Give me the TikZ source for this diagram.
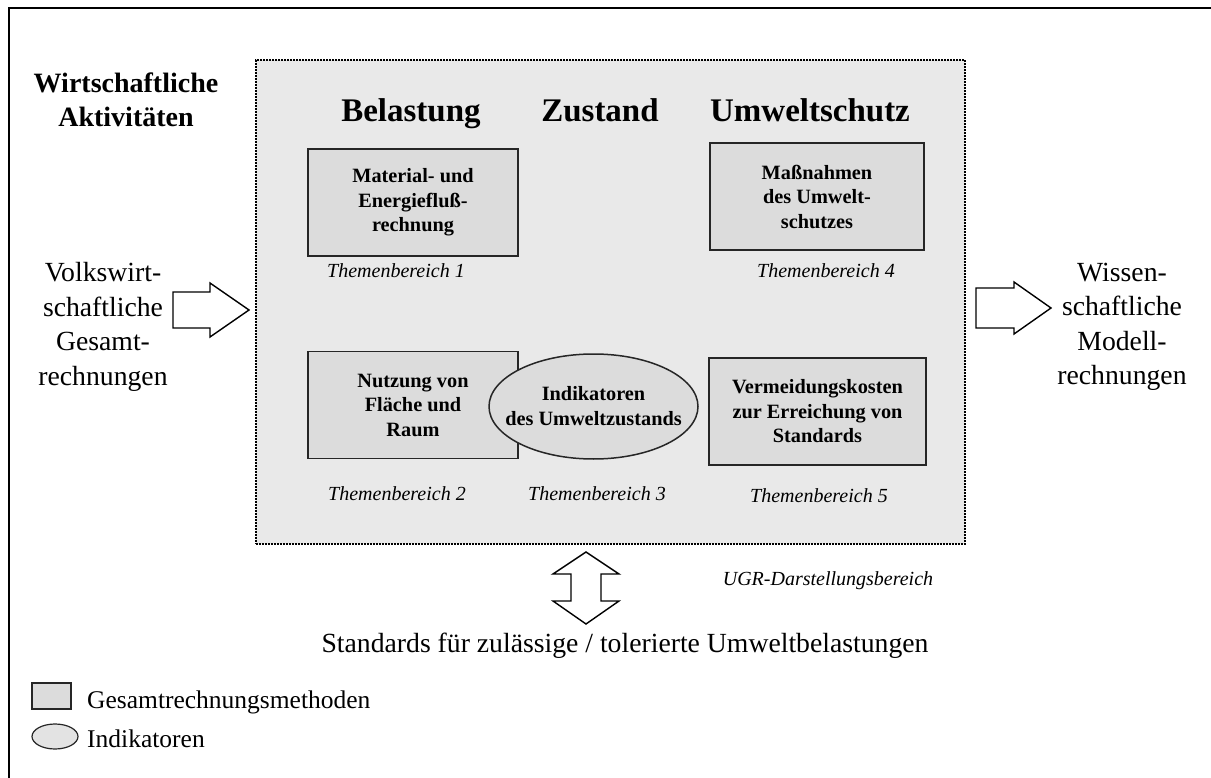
\documentclass[tikz,border=0pt]{standalone}
\usepackage{fontspec}
\setmainfont{Liberation Serif}
\usetikzlibrary{shapes.geometric}

\definecolor{fondo}{HTML}{E9E9E9}
\definecolor{caja}{HTML}{DCDCDC}

\begin{document}
\begin{tikzpicture}[x=1pt, y=-1pt,
    bereich/.style={draw, line width=1.6pt, dash pattern=on 1.6pt off 1.4pt, fill=fondo,
        minimum width=709pt, minimum height=484pt, inner sep=0pt},
    metodo/.style={draw=black!85, line width=1.5pt, fill=caja, minimum width=#1,
        minimum height=107pt, inner sep=0pt, align=center,
        font=\fontsize{20.3}{24.5}\selectfont\bfseries},
    indik/.style={ellipse, draw=black!85, line width=1.5pt, fill=caja, inner sep=0pt},
    kopf/.style={anchor=base, inner sep=0pt, font=\fontsize{33}{38}\selectfont\bfseries},
    thema/.style={anchor=base, inner sep=0pt, font=\fontsize{20}{24}\selectfont\itshape},
    gross/.style={inner sep=0pt, align=center, font=\fontsize{27.7}{34.5}\selectfont},
    legende/.style={anchor=base west, inner sep=0pt, font=\fontsize{25.5}{30}\selectfont},
    pfeil/.style={draw, line width=1.4pt, fill=white, line join=miter}]
    \useasboundingbox (0,0) rectangle (1211,778);

    % Marco exterior (recortado)
    \draw[line width=1.5pt] (1211,8) -- (9,8) -- (9,778);

    % Zona punteada del UGR
    \node[bereich] (ugr) at (610.5,302) {};

    % Cabeceras
    \node[kopf] (belastung) at (411,122) {Belastung};
    \node[kopf] (zustand) at (600,122) {Zustand};
    \node[kopf] (schutz) at (810,122) {Umweltschutz};
    \node[inner sep=0pt, align=center, font=\fontsize{28}{34}\selectfont\bfseries]
        (wirtschaft) at (126,100) {Wirtschaftliche\\Aktivitäten};

    % Cajas de los Themenbereiche
    \node[metodo=210pt] (material) at (413,202.5) {Material- und\\Energiefluß-\\rechnung};
    \node[metodo=214pt] (massnahmen) at (817,196.5) {Maßnahmen\\des Umwelt-\\schutzes};
    \node[metodo=210pt] (nutzung) at (413,405) {Nutzung von\\Fläche und\\Raum};
    \node[metodo=217pt] (vermeidung) at (817.5,411.5) {Vermeidungskosten\\zur Erreichung von\\Standards};
    \node[indik, minimum width=209pt, minimum height=105pt] (indikatoren) at (593.5,406.5) {};
    \node[align=center, inner sep=0pt, font=\fontsize{20.3}{25}\selectfont\bfseries]
        (indtext) at (indikatoren.center) {Indikatoren\\des Umweltzustands};

    % Etiquetas
    \node[thema] (tb1) at (396,278) {Themenbereich 1};
    \node[thema] (tb4) at (826,278) {Themenbereich 4};
    \node[thema] (tb2) at (397,500) {Themenbereich 2};
    \node[thema] (tb3) at (597,500) {Themenbereich 3};
    \node[thema] (tb5) at (819,502) {Themenbereich 5};
    \node[thema] (ugrlabel) at (828,585) {UGR-Darstellungsbereich};

    % Textos laterales
    \node[gross] (vgr) at (103,327) {Volkswirt-\\schaftliche\\Gesamt-\\rechnungen};
    \node[gross] (modell) at (1122,327) {Wissen-\\schaftliche\\Modell-\\rechnungen};
    \node[gross, anchor=base] (standards) at (625,652)
        {Standards für zulässige / tolerierte Umweltbelastungen};

    % Flechas de bloque
    \draw[pfeil] (173,292) -- (210,292) -- (210,283) -- (249,310) -- (210,337)
        -- (210,328) -- (173,328) -- cycle;
    \draw[pfeil] (976,288) -- (1014,288) -- (1014,282) -- (1051,308) -- (1014,334)
        -- (1014,328) -- (976,328) -- cycle;
    \draw[pfeil] (586,552) -- (619,574) -- (601,574) -- (601,601) -- (619,601)
        -- (586,624) -- (553,601) -- (571,601) -- (571,574) -- (553,574) -- cycle;

    % Leyenda
    \node[draw=black!85, line width=1.2pt, fill=caja, minimum width=39pt,
        minimum height=26pt, inner sep=0pt] (legkasten) at (51.5,696) {};
    \node[legende] (legmethoden) at (87,708) {Gesamtrechnungsmethoden};
    \node[indik, line width=1.2pt, fill=caja!80!white, minimum width=46pt,
        minimum height=25pt] (legellipse) at (55,736.5) {};
    \node[legende] (legindikatoren) at (87,747) {Indikatoren};
\end{tikzpicture}
\end{document}
